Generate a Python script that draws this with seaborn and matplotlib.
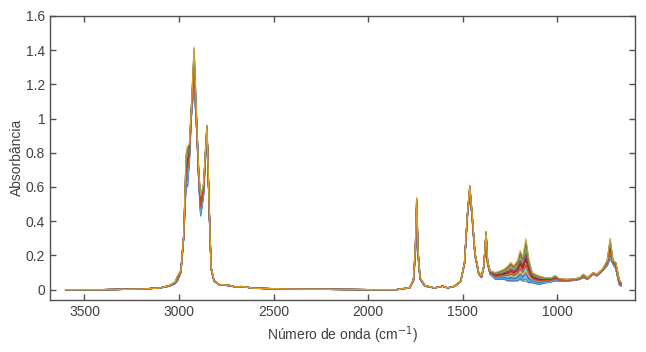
import numpy as np
import pandas as pd
import matplotlib
matplotlib.use('Agg')
import matplotlib.pyplot as plt
import matplotlib.ticker as mticker
import seaborn as sns

# wavenumber points (cm-1), with the lowest and highest spectrum at each one
wavenumber = [3600, 3400, 3200, 3100, 3050, 3020, 3008, 2990, 2975, 2962, 2955, 2945, 2935,
              2920, 2905, 2895, 2885, 2870, 2852, 2840, 2830, 2815, 2790, 2730, 2700, 2670,
              2600, 2400, 2000, 1850, 1780, 1760, 1750, 1743, 1736, 1725, 1700, 1650, 1605,
              1580, 1540, 1510, 1490, 1475, 1462, 1450, 1435, 1415, 1400, 1388, 1376, 1368,
              1355, 1326, 1300, 1280, 1260, 1245, 1230, 1210, 1195, 1182, 1165, 1150, 1132,
              1115, 1095, 1060, 1030, 1010, 990, 950, 900, 880, 862, 840, 810, 790, 760, 735,
              720, 705, 690, 672, 662]
abs_low = [0.0, 0.0, 0.003, 0.01, 0.02, 0.035, 0.05, 0.10, 0.30, 0.62, 0.60, 0.75, 1.0,
           1.2, 0.9, 0.62, 0.43, 0.55, 0.93, 0.45, 0.12, 0.05, 0.03, 0.022, 0.015, 0.018,
           0.008, 0.003, 0.0, 0.0, 0.01, 0.05, 0.2, 0.45, 0.2, 0.06, 0.02, 0.01, 0.02,
           0.01, 0.02, 0.05, 0.15, 0.42, 0.57, 0.42, 0.2, 0.09, 0.07, 0.13, 0.31, 0.15,
           0.09, 0.06, 0.06, 0.06, 0.05, 0.05, 0.05, 0.05, 0.06, 0.05, 0.05, 0.04, 0.04,
           0.035, 0.03, 0.04, 0.045, 0.05, 0.05, 0.05, 0.055, 0.06, 0.07, 0.06, 0.09, 0.08, 0.11, 0.14,
           0.18, 0.15, 0.12, 0.03, 0.02]
abs_high = [0.0, 0.0, 0.003, 0.01, 0.025, 0.045, 0.08, 0.11, 0.32, 0.80, 0.84, 0.85, 1.05,
            1.42, 0.95, 0.68, 0.55, 0.62, 0.96, 0.48, 0.13, 0.055, 0.03, 0.025, 0.015, 0.018,
            0.008, 0.003, 0.0, 0.0, 0.012, 0.06, 0.25, 0.54, 0.24, 0.07, 0.025, 0.01, 0.02,
            0.01, 0.02, 0.05, 0.16, 0.44, 0.61, 0.45, 0.22, 0.1, 0.08, 0.14, 0.34, 0.17,
            0.11, 0.10, 0.11, 0.12, 0.14, 0.16, 0.14, 0.17, 0.23, 0.19, 0.30, 0.18, 0.10,
            0.09, 0.08, 0.07, 0.07, 0.083, 0.065, 0.06, 0.065, 0.07, 0.09, 0.07, 0.10, 0.09, 0.12, 0.17,
            0.30, 0.17, 0.16, 0.06, 0.04]
# position of each sample between the lowest and highest spectrum
sample_level = [0.0, 0.35, 0.7, 0.2, 0.5, 0.1, 0.85, 0.4, 0.6, 0.25, 0.05, 0.75, 0.3, 0.55,
                0.15, 0.9, 0.45, 0.65, 0.8, 0.08, 0.5, 0.95, 0.38, 1.0]

matlab_colors = ['#0072BD', '#D95319', '#EDB120', '#7E2F8E', '#77AC30', '#4DBEEE', '#A2142F']

rows = []
lo = np.array(abs_low)
hi = np.array(abs_high)
for i, k in enumerate(sample_level):
    y = lo + k * (hi - lo)
    for w, a in zip(wavenumber, y):
        rows.append({'sample': i, 'wn': w, 'abs': a})
df = pd.DataFrame(rows)

sns.set_style('ticks')
plt.rcParams['font.family'] = ['Liberation Sans', 'DejaVu Sans']

fig = plt.figure(figsize=(6.46, 3.52), dpi=100)
ax = fig.add_axes([0.0774, 0.148, 0.906, 0.807])
pal = [matlab_colors[i % 7] for i in range(len(sample_level))]
sns.lineplot(data=df, x='wn', y='abs', hue='sample', palette=pal, estimator=None,
             sort=False, linewidth=0.9, alpha=0.8, legend=False, ax=ax)

ax.set_xlim(3682, 587)
ax.set_ylim(-0.06, 1.6)
ax.set_xticks([3500, 3000, 2500, 2000, 1500, 1000])
ax.set_yticks(np.arange(0, 1.61, 0.2))
ax.yaxis.set_major_formatter(mticker.FuncFormatter(lambda v, p: '%g' % round(v, 1)))
ax.tick_params(direction='in', top=True, right=True, length=4, width=1,
               colors='#505050', labelsize=10, labelcolor='#404040')
for s in ax.spines.values():
    s.set_visible(True)
    s.set_color('#505050')
    s.set_linewidth(1)
ax.set_xlabel('Número de onda (cm$^{-1}$)', fontsize=10, color='#404040')
ax.set_ylabel('Absorbância', fontsize=10, color='#404040', labelpad=1)

fig.savefig('out.png', dpi=100)
